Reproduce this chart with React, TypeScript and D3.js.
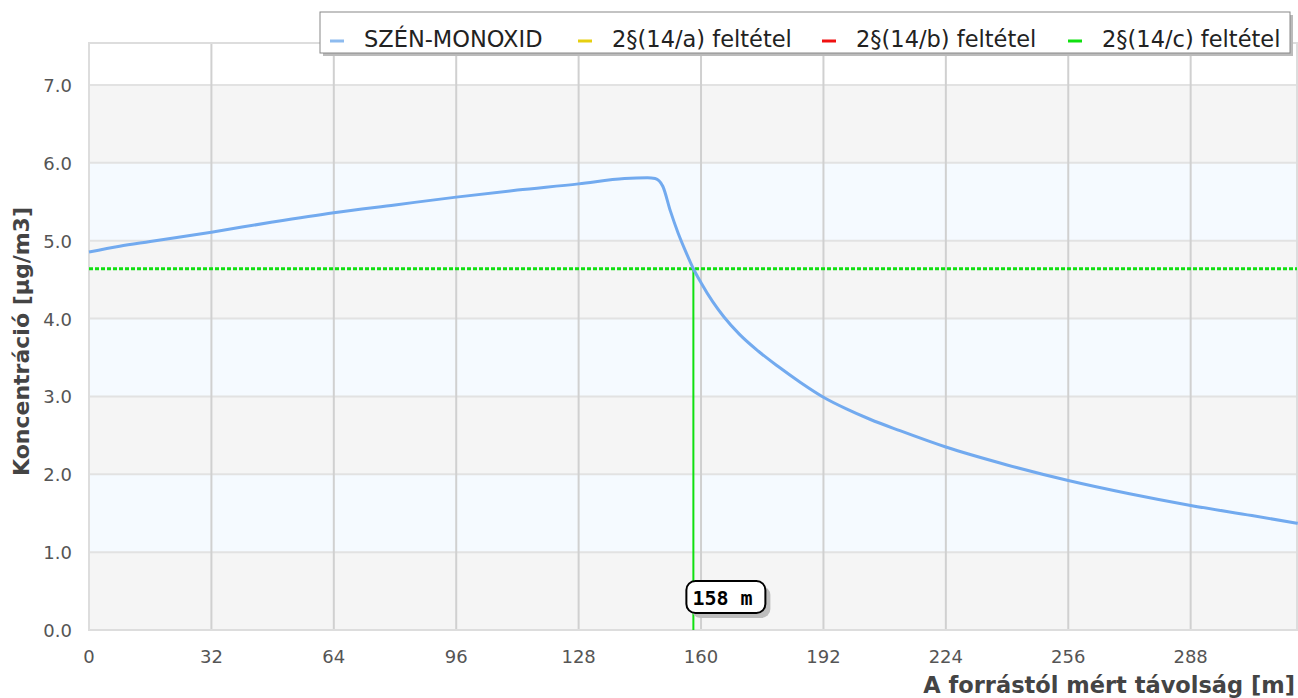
import React from "react";
import * as d3 from "d3";

// distance from source [m]
const distances = [0, 8, 16, 32, 48, 64, 80, 96, 112, 128, 140, 146, 148, 150, 152, 154, 156, 158, 160, 163, 166, 170, 175, 180, 186, 192, 198, 204, 212, 224, 240, 256, 272, 288, 304, 316];
// CO concentration [µg/m3]
const concentration = [4.855, 4.93, 4.99, 5.11, 5.24, 5.36, 5.46, 5.56, 5.65, 5.73, 5.8, 5.81, 5.8, 5.7, 5.38, 5.1, 4.86, 4.64, 4.46, 4.22, 4.02, 3.8, 3.58, 3.39, 3.18, 2.99, 2.84, 2.71, 2.56, 2.35, 2.12, 1.92, 1.75, 1.6, 1.47, 1.37];

const xTicks = [0, 32, 64, 96, 128, 160, 192, 224, 256, 288];
const yTicks = [0, 1, 2, 3, 4, 5, 6, 7];

const thresholdC = 4.64;
const crossingDistance = 158;

const legendItems = [
  { label: "SZÉN-MONOXID", color: "#8dbbef" },
  { label: "2§(14/a) feltétel", color: "#e6cf10" },
  { label: "2§(14/b) feltétel", color: "#f01010" },
  { label: "2§(14/c) feltétel", color: "#10e010" },
];
const legendX = [330, 578, 822, 1068];

const W = 1298;
const H = 698;
const margin = { top: 43, right: 1, bottom: 68, left: 89 };

export default function App() {
  const x = d3.scaleLinear().domain([0, 315.8]).range([margin.left, W - margin.right]);
  const y = d3.scaleLinear().domain([0, 7.0]).range([H - margin.bottom, 85]);
  const yTop = margin.top;
  const yBottom = y(0);
  const xRight = x.range()[1];

  const pts = distances.map((d, i) => [d, concentration[i]] as [number, number]);
  const line = d3
    .line<[number, number]>()
    .x((d) => x(d[0]))
    .y((d) => y(d[1]))
    .curve(d3.curveMonotoneX);

  const font = "'DejaVu Sans', sans-serif";

  return (
    <svg width={W} height={H} style={{ position: "absolute", left: 0, top: 0 }} fontFamily={font}>
      {/* plot background */}
      <rect x={x(0)} y={yTop} width={xRight - x(0)} height={yBottom - yTop} fill="#ffffff" />
      {yTicks.slice(0, -1).map((t, i) => (
        <rect
          key={"band" + t}
          x={x(0)}
          y={y(t + 1)}
          width={xRight - x(0)}
          height={y(t) - y(t + 1)}
          fill={i % 2 === 0 ? "#f5f5f5" : "#f5faff"}
        />
      ))}
      {/* horizontal grid */}
      {yTicks.map((t) => (
        <line key={"hy" + t} x1={x(0)} x2={xRight} y1={y(t)} y2={y(t)} stroke="#e2e2e2" strokeWidth={2} />
      ))}
      {/* vertical grid */}
      {xTicks.slice(1).map((t) => (
        <line key={"vx" + t} x1={x(t)} x2={x(t)} y1={yTop} y2={yBottom} stroke="#d0d0d0" strokeWidth={2} />
      ))}
      {/* plot frame */}
      <rect x={x(0)} y={yTop} width={xRight - x(0)} height={yBottom - yTop} fill="none" stroke="#dddddd" strokeWidth={2} />

      {/* threshold line */}
      <line
        x1={x(0)}
        x2={xRight}
        y1={y(thresholdC)}
        y2={y(thresholdC)}
        stroke="#10e010"
        strokeWidth={3}
        strokeDasharray="4 2"
      />
      <line x1={x(crossingDistance)} x2={x(crossingDistance)} y1={y(thresholdC)} y2={yBottom} stroke="#10e010" strokeWidth={2} />

      {/* curve */}
      <path d={line(pts) ?? ""} fill="none" stroke="#72aaef" strokeWidth={3} strokeLinejoin="round" />

      {/* crossing label */}
      <g transform={`translate(${x(crossingDistance) - 7},581)`}>
        <rect x={5} y={5} width={79} height={32} rx={9} fill="#bdbdbd" />
        <rect x={0} y={0} width={79} height={32} rx={9} fill="#ffffff" stroke="#000" strokeWidth={2} />
        <text x={6} y={24} fontFamily="'DejaVu Sans Mono', monospace" fontWeight="bold" fontSize={20} fill="#000">
          {crossingDistance} m
        </text>
      </g>

      {/* y ticks */}
      {yTicks.map((t) => (
        <text key={"yt" + t} x={72} y={y(t) + 7} textAnchor="end" fontSize={18} fill="#555">
          {t.toFixed(1)}
        </text>
      ))}
      {/* x ticks */}
      {xTicks.map((t) => (
        <text key={"xt" + t} x={x(t)} y={663} textAnchor="middle" fontSize={18} fill="#555">
          {t}
        </text>
      ))}

      {/* axis titles */}
      <text
        transform={`translate(29,${(205 + 478) / 2}) rotate(-90)`}
        textAnchor="middle"
        fontSize={22}
        fontWeight="bold"
        fill="#444"
      >
        Koncentráció [µg/m3]
      </text>
      <text x={1295} y={693} textAnchor="end" fontSize={22.5} fontWeight="bold" fill="#444">
        A forrástól mért távolság [m]
      </text>

      {/* legend */}
      <rect x={323} y={15} width={970} height={41} fill="#bbbbbb" />
      <rect x={320} y={12} width={970} height={41} fill="#ffffff" stroke="#888" strokeWidth={1} />
      {legendItems.map((it, i) => (
        <g key={it.label}>
          <line x1={legendX[i]} x2={legendX[i] + 14} y1={41} y2={41} stroke={it.color} strokeWidth={3} />
          <text x={legendX[i] + 34} y={47} fontSize={22.5} fill="#222">
            {it.label}
          </text>
        </g>
      ))}
    </svg>
  );
}
